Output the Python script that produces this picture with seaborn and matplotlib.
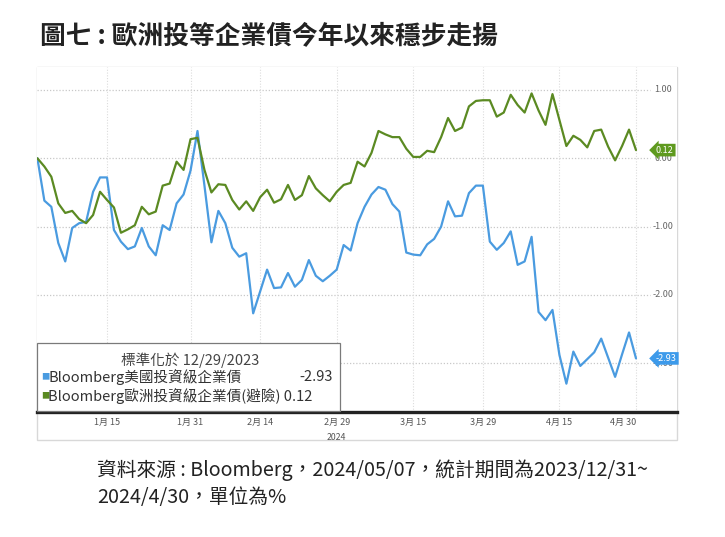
import numpy as np
import pandas as pd
import matplotlib
matplotlib.use("Agg")
import matplotlib.pyplot as plt
import matplotlib.transforms as mtransforms
from matplotlib.patches import Rectangle
import seaborn as sns

# ---------------- data ----------------
dates = [pd.Timestamp("2023-12-29")] + list(pd.bdate_range("2024-01-02", "2024-04-30"))

us_ig = [0.00, -0.62, -0.71, -1.24, -1.51, -1.02, -0.95, -0.93, -0.49, -0.28,
         -0.28, -1.05, -1.22, -1.33, -1.29, -1.02, -1.29, -1.42, -0.98, -1.05,
         -0.66, -0.53, -0.18, 0.40, -0.40, -1.23, -0.77, -0.95, -1.31, -1.44,
         -1.39, -2.27, -1.95, -1.63, -1.90, -1.89, -1.68, -1.88, -1.78, -1.49,
         -1.72, -1.80, -1.72, -1.63, -1.27, -1.35, -0.95, -0.71, -0.53, -0.42,
         -0.46, -0.67, -0.78, -1.38, -1.41, -1.42, -1.26, -1.18, -1.00, -0.63,
         -0.85, -0.84, -0.51, -0.40, -0.40, -1.22, -1.34, -1.24, -1.07, -1.56,
         -1.51, -1.15, -2.25, -2.37, -2.22, -2.88, -3.30, -2.83, -3.04, -2.94,
         -2.84, -2.64, -2.92, -3.20, -2.87, -2.55, -2.93]

eu_ig = [0.00, -0.12, -0.27, -0.66, -0.80, -0.77, -0.89, -0.95, -0.83, -0.49,
         -0.61, -0.72, -1.09, -1.04, -0.98, -0.71, -0.82, -0.78, -0.40, -0.37,
         -0.05, -0.17, 0.28, 0.30, -0.17, -0.50, -0.38, -0.39, -0.61, -0.75,
         -0.63, -0.77, -0.57, -0.46, -0.65, -0.60, -0.39, -0.61, -0.54, -0.26,
         -0.44, -0.54, -0.63, -0.49, -0.39, -0.36, -0.05, -0.12, 0.08, 0.40,
         0.35, 0.31, 0.31, 0.14, 0.02, 0.02, 0.11, 0.09, 0.31, 0.59,
         0.40, 0.45, 0.76, 0.84, 0.85, 0.85, 0.61, 0.67, 0.93, 0.78,
         0.67, 0.95, 0.70, 0.49, 0.94, 0.56, 0.18, 0.33, 0.27, 0.16,
         0.40, 0.42, 0.17, -0.03, 0.18, 0.42, 0.12]

series_names = ["Bloomberg美國投資級企業債", "Bloomberg歐洲投資級企業債(避險)"]
last_values = [-2.93, 0.12]
tick_dates = ["2024-01-15", "2024-01-31", "2024-02-14", "2024-02-29",
              "2024-03-15", "2024-03-29", "2024-04-15", "2024-04-30"]
tick_labels = ["1月 15", "1月 31", "2月 14", "2月 29", "3月 15", "3月 29", "4月 15", "4月 30"]
y_ticks = [1.0, 0.0, -1.0, -2.0, -3.0]
y_tick_labels = ["1.00", "0.00", "-1.00", "-2.00", "-3.00"]

title = "圖七 : 歐洲投等企業債今年以來穩步走揚"
source_1 = "資料來源 : Bloomberg，2024/05/07，統計期間為2023/12/31~"
source_2 = "2024/4/30，單位為%"
legend_head = "標準化於 12/29/2023"

# ---------------- style ----------------
sns.set_theme(style="white")
plt.rcParams["font.family"] = ["Noto Sans CJK TC", "DejaVu Sans"]

BLUE = "#4a9be0"
GREEN = "#5b8a22"
BLUE_BADGE = "#3d9aea"
GREEN_BADGE = "#5f9a1f"

W, H = 725, 537
fig = plt.figure(figsize=(W / 100, H / 100), dpi=100)
fig.patch.set_facecolor("white")

def fxy(px, py):
    return px / W, 1 - py / H

ax = fig.add_axes([37 / W, 1 - 412 / H, (677 - 37) / W, (412 - 67) / H])

pos = np.arange(len(dates))
df = pd.DataFrame({
    "pos": np.concatenate([pos, pos]),
    "value": us_ig + eu_ig,
    "series": [series_names[0]] * len(us_ig) + [series_names[1]] * len(eu_ig),
})
sns.lineplot(data=df, x="pos", y="value", hue="series",
             palette={series_names[0]: BLUE, series_names[1]: GREEN},
             linewidth=1.6, legend=False, ax=ax, zorder=3)

# scales
step = (636 - 37.4) / (len(dates) - 1)
x_left = (37 - 37.4) / step
x_right = (677 - 37.4) / step
ax.set_xlim(x_left, x_right)
y_per = 68.3
ax.set_ylim((158.3 - 412) / y_per, (158.3 - 67) / y_per)

# grid lines
grid_end = (650 - 37.4) / step
for yv in y_ticks:
    ax.hlines(yv, x_left, grid_end, colors="#c8c8c8", linestyles=(0, (1, 1.5)), linewidth=0.9, zorder=1)
date_index = {d.strftime("%Y-%m-%d"): i for i, d in enumerate(dates)}
tick_pos = [date_index[d] for d in tick_dates]
for tp in tick_pos:
    ax.axvline(tp, color="#dcdcdc", linestyle=(0, (1, 1.5)), linewidth=0.8, zorder=1)

# y labels (right, inside)
label_x = (663 - 37.4) / step
for yv, lab in zip(y_ticks, y_tick_labels):
    ax.text(label_x, yv, lab, ha="center", va="center", fontsize=6.5, color="#666666", zorder=2)
ax.set_yticks([])

# x ticks
ax.set_xticks(tick_pos)
ax.set_xticklabels(tick_labels)
ax.tick_params(axis="x", length=0, pad=4, labelsize=6.5, colors="#555555")
for lbl in ax.get_xticklabels()[-1:]:
    lbl.set_ha("right")
ax.set_xlabel("")
ax.set_ylabel("")
trans = mtransforms.blended_transform_factory(ax.transData, ax.transAxes)
ax.text(tick_pos[3], -0.06, "2024", transform=trans, ha="center", va="top",
        fontsize=6.3, color="#555555")

for s in ["top", "right", "left"]:
    ax.spines[s].set_visible(False)
ax.spines["bottom"].set_color("#222222")
ax.spines["bottom"].set_linewidth(2.4)

# badges with last values
badge_x = (656 - 37.4) / step
for val, col in zip(last_values, [BLUE_BADGE, GREEN_BADGE]):
    ax.text(badge_x, val, f"{val:.2f}", ha="left", va="center", fontsize=6.5,
            color="white", zorder=5,
            bbox=dict(boxstyle="larrow,pad=0.2", fc=col, ec="none"))

# outer chart frame
x0, y0 = fxy(37, 440)
x1, y1 = fxy(677, 67)
fig.add_artist(Rectangle((x0, y0), x1 - x0, y1 - y0, transform=fig.transFigure,
                         fill=False, ec="#d8d8d8", lw=1.0, zorder=0))

# legend box
lx0, ly0 = fxy(37, 411)
lx1, ly1 = fxy(340, 343)
fig.add_artist(Rectangle((lx0, ly0), lx1 - lx0, ly1 - ly0, transform=fig.transFigure,
                         fc="white", ec="#7a7a7a", lw=0.9, zorder=4))
tx, ty = fxy(190, 360)
fig.text(tx, ty, legend_head, ha="center", va="center", fontsize=10.5, color="#444444", zorder=5)
for (yy, col, name, val) in [(377, BLUE, series_names[0], last_values[0]),
                              (396, GREEN, series_names[1], last_values[1])]:
    mx, my = fxy(41, yy)
    fig.text(mx, my, "■", ha="left", va="center", fontsize=6, color=col, zorder=5)
    nx, ny = fxy(48, yy)
    if val < 0:
        fig.text(nx, ny, name, ha="left", va="center", fontsize=10.5, color="#333333", zorder=5)
        vx, vy = fxy(333, yy)
        fig.text(vx, vy, f"{val:.2f}", ha="right", va="center", fontsize=10.5, color="#333333", zorder=5)
    else:
        fig.text(nx, ny, f"{name} {val:.2f}", ha="left", va="center", fontsize=10.5,
                 color="#333333", zorder=5)

# title & source
tx, ty = fxy(40, 36)
fig.text(tx, ty, title, ha="left", va="center", fontsize=18.5, fontweight="bold", color="#222222")
sx, sy = fxy(97, 470)
fig.text(sx, sy, source_1, ha="left", va="center", fontsize=14.2, color="#222222")
sx, sy = fxy(97, 497)
fig.text(sx, sy, source_2, ha="left", va="center", fontsize=14.2, color="#222222")

fig.savefig("out.png", dpi=100, facecolor="white")
